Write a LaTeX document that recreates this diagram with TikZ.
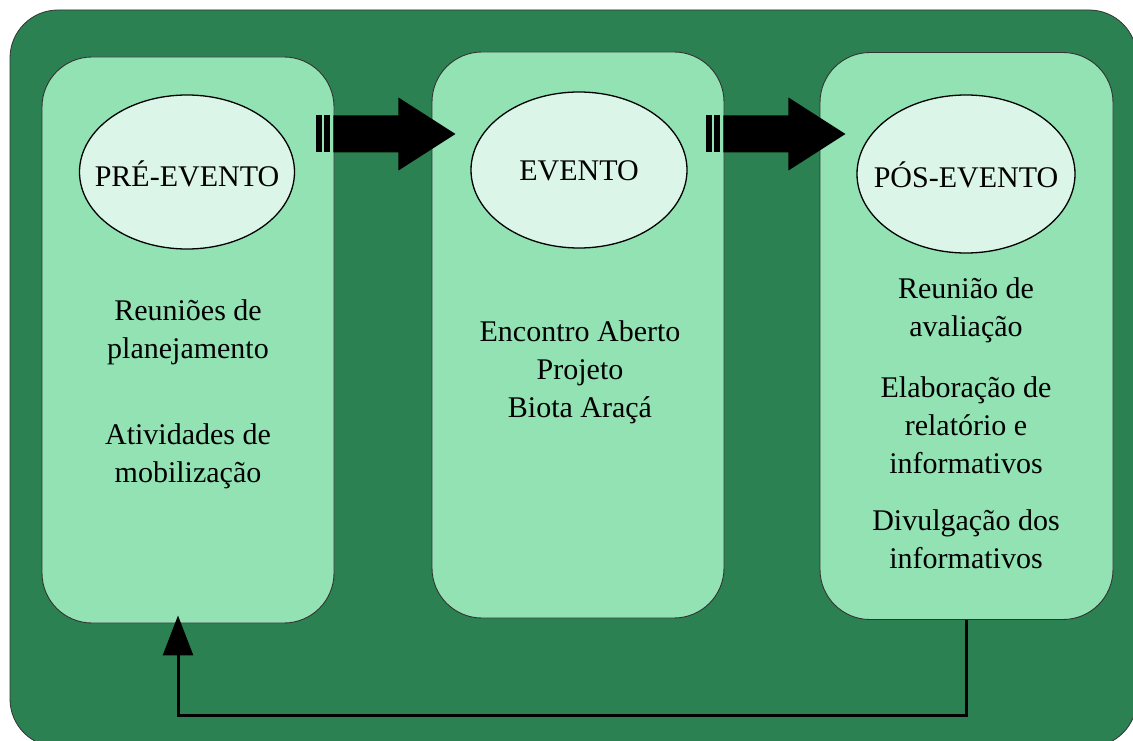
\documentclass[tikz,border=0pt]{standalone}
\usepackage{fontspec}
\setmainfont{Liberation Serif}
\usetikzlibrary{positioning, arrows.meta, calc, shapes.geometric}
\definecolor{bgGreen}{HTML}{2B8151}
\definecolor{boxGreen}{HTML}{92E2B4}
\definecolor{ellGreen}{HTML}{DBF6E8}
\tikzset{
  every node/.style={font=\fontsize{30}{38}\selectfont},
  phase/.style={draw=black!80, fill=boxGreen, line width=0.9pt, rounded corners=50pt,
                minimum width=292pt, minimum height=566pt, inner sep=0pt},
  stage/.style={draw, ellipse, fill=ellGreen, line width=1.3pt, inner sep=0pt},
  txt/.style={align=center},
  blockarr/.style={fill=black},
  back/.style={-{Triangle[length=40pt, width=30pt]}, line width=3pt},
}
\begin{document}
\begin{tikzpicture}[x=1pt, y=-1pt]
  \useasboundingbox (0,0) rectangle (1133,741);
  % --- background panel ---
  \draw[fill=bgGreen, draw=black!80, line width=0.8pt, rounded corners=48pt]
    (10,10) rectangle (1137,747);
  % --- the three phases ---
  \node[phase] (pre) at (188,340) {};
  \node[phase] (evt) at (578,335) {};
  \node[phase, minimum width=293pt, minimum height=567pt] (pos) at (966.5,336) {};
  \node[stage, minimum width=215pt, minimum height=154pt,
        label={[yshift=-2pt]center:PRÉ-EVENTO}] (preEll) at (187,172) {};
  \node[stage, minimum width=216pt, minimum height=156pt,
        label={[yshift=-1pt]center:EVENTO}] (evtEll) at (579,170) {};
  \node[stage, minimum width=218pt, minimum height=158pt,
        label={[yshift=-1pt]center:PÓS-EVENTO}] (posEll) at (966,174) {};
  % --- texts inside the phases ---
  \node[txt] (preA) at (188,332) {Reuniões de\\planejamento};
  \node[txt] (preB) at (188,456) {Atividades de\\mobilização};
  \node[txt] (evtA) at (580,372) {Encontro Aberto\\Projeto\\Biota Araçá};
  \node[txt] (posA) at (966,310) {Reunião de\\avaliação};
  \node[txt] (posB) at (966,425) {Elaboração de\\relatório e\\informativos};
  \node[txt] (posC) at (966,539) {Divulgação dos\\informativos};
  % --- striped block arrows between phases ---
  \foreach \src in {pre, evt} {
    \path (\src.east |- 0,134) coordinate (s);
    \begin{scope}[shift={([xshift=-18pt]s)}]
      \fill[blockarr] (0,-18.5) rectangle (6,18.5);
      \fill[blockarr] (8,-18.5) rectangle (14,18.5);
      \fill[blockarr] (17,-18.5) -- (82,-18.5) -- (82,-36.5) -- (139,0)
        -- (82,36.5) -- (82,18.5) -- (17,18.5) -- cycle;
    \end{scope}
  }
  % --- feedback loop ---
  \draw[back] (pos.south) -- ++(0,96) -| ([xshift=-10pt, yshift=8pt]pre.south);
\end{tikzpicture}
\end{document}
